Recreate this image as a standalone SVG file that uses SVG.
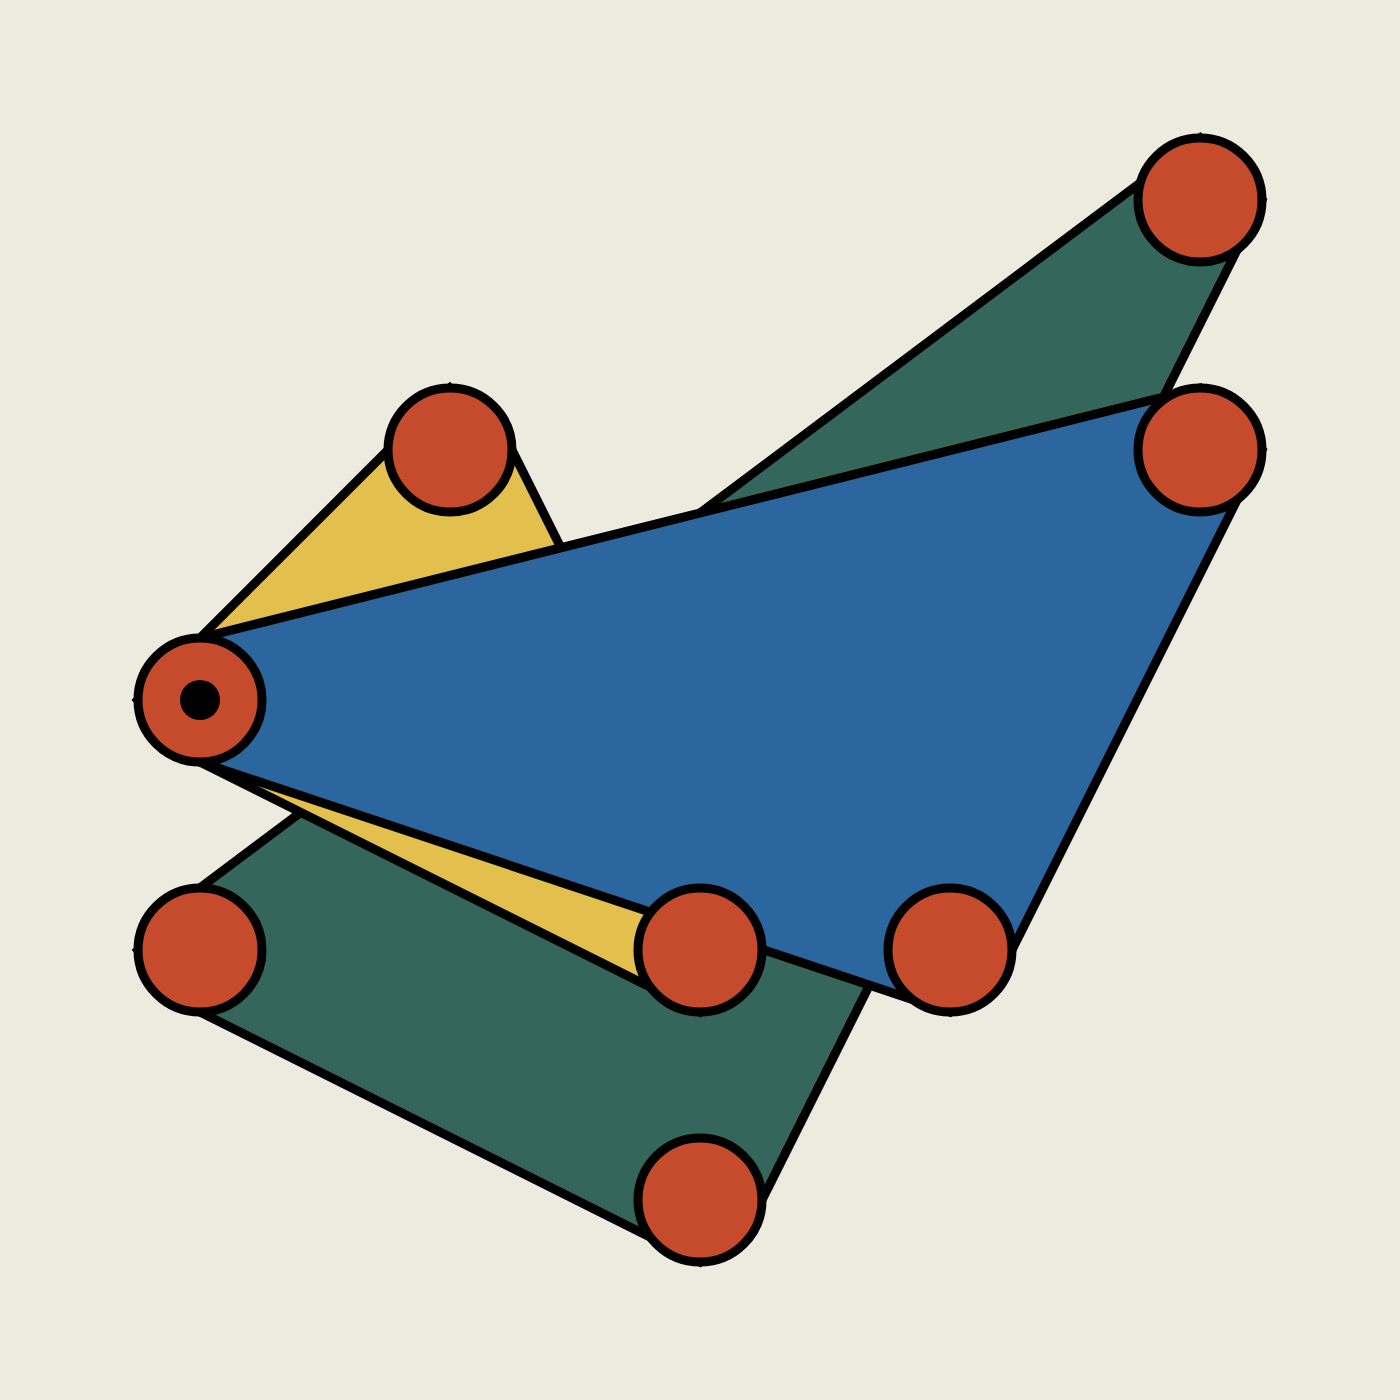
<svg xmlns="http://www.w3.org/2000/svg" width="1400" height="1400" viewBox="0 0 1400 1400">
<style>
.shape{stroke:#000;stroke-width:9;stroke-linejoin:miter;stroke-miterlimit:10}
.node{fill:#C54B2C;stroke:#000;stroke-width:9}
</style>
<rect x="0" y="0" width="1400" height="1400" fill="#EBEBDF"/>
<g id="connectors">
<polygon id="green" class="shape" fill="#35665C" points="1200,138 200,888 138,950 200,1012 700,1262 762,1200 1262,200"/>
<polygon id="yellow" class="shape" fill="#E3BF4E" points="450,388 138,700 200,762 700,1012 762,950 512,450"/>
<polygon id="blue" class="shape" fill="#2C669E" points="138,700 200,638 1200,388 1262,450 1012,950 950,1012 200,762"/>
</g>
<g id="n1"><circle class="node" cx="1200" cy="200" r="62"/></g>
<g id="n2"><circle class="node" cx="450" cy="450" r="62"/></g>
<g id="n3"><circle class="node" cx="1200" cy="450" r="62"/></g>
<g id="n4"><circle class="node" cx="200" cy="700" r="62"/><circle cx="200" cy="700" r="20" fill="#000"/></g>
<g id="n5"><circle class="node" cx="200" cy="950" r="62"/></g>
<g id="n6"><circle class="node" cx="700" cy="950" r="62"/></g>
<g id="n7"><circle class="node" cx="950" cy="950" r="62"/></g>
<g id="n8"><circle class="node" cx="700" cy="1200" r="62"/></g>
</svg>
